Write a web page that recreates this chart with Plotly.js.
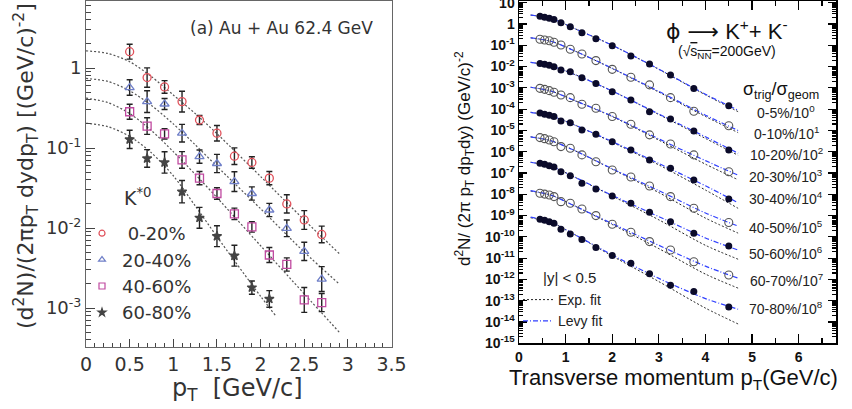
<!DOCTYPE html>
<html>
<head>
<meta charset="utf-8">
<script src="https://cdn.plot.ly/plotly-3.0.1.min.js"></script>
<style>
  html, body { margin: 0; padding: 0; background: #fff; }
  #chart { width: 852px; height: 409px; }
</style>
</head>
<body>
<div id="chart"></div>
<script>
// ---------------- Left panel: K*0 spectra, Au+Au 62.4 GeV ----------------
const kstarNames = ['\u00a00-20%', '20-40%', '40-60%', '60-80%'];
const kstarPt = [0.5, 0.7, 0.9, 1.1, 1.3, 1.5, 1.7, 1.9, 2.1, 2.3, 2.5, 2.7];
const kstarPtPeripheral = [0.5, 0.7, 0.9, 1.1, 1.3, 1.5, 1.7, 1.9, 2.1];
const kstar0to20 = [1.6, 0.76, 0.58, 0.38, 0.224, 0.153, 0.079, 0.066, 0.042, 0.020, 0.0126, 0.0083];
const kstar20to40 = [0.57, 0.38, 0.355, 0.153, 0.078, 0.064, 0.038, 0.027, 0.0168, 0.0099, 0.0051, 0.0023];
const kstar40to60 = [0.284, 0.188, 0.15, 0.071, 0.042, 0.027, 0.015, 0.0103, 0.0046, 0.0035, 0.00126, 0.00117];
const kstar60to80 = [0.128, 0.074, 0.066, 0.0284, 0.0134, 0.0079, 0.0045, 0.0018, 0.0013];
// relative uncertainties (upper side)
const kstarErr0to20 = [0.24, 0.32, 0.20, 0.35, 0.14, 0.25, 0.27, 0.18, 0.21, 0.30, 0.31, 0.27];
const kstarErr20to40 = [0.25, 0.37, 0.17, 0.29, 0.21, 0.30, 0.33, 0.21, 0.21, 0.27, 0.30, 0.43];
const kstarErr40to60 = [0.24, 0.27, 0.16, 0.27, 0.21, 0.18, 0.18, 0.16, 0.24, 0.21, 0.43, 0.30];
const kstarErr60to80 = [0.30, 0.29, 0.36, 0.38, 0.35, 0.35, 0.35, 0.21, 0.27];
// fitted curves
const kstarFitPt = [0, 0.25, 0.5, 0.75, 1.0, 1.25, 1.5, 2.0, 2.5, 2.9];
const kstarFitPtPeripheral = [0, 0.25, 0.5, 0.75, 1.0, 1.25, 1.5, 2.0, 2.18];
const kstarFit0to20 = [1.64, 1.52, 1.2, 0.78, 0.46, 0.27, 0.151, 0.044, 0.0126, 0.0048];
const kstarFit20to40 = [0.74, 0.68, 0.52, 0.34, 0.2, 0.11, 0.059, 0.0174, 0.005, 0.002];
const kstarFit40to60 = [0.42, 0.37, 0.27, 0.165, 0.09, 0.047, 0.024, 0.006, 0.0015, 0.0005];
const kstarFit60to80 = [0.204, 0.185, 0.14, 0.087, 0.045, 0.019, 0.0078, 0.0014, 0.00078];
const kstarTicks = [0, 0.5, 1, 1.5, 2, 2.5, 3, 3.5];
const kstarTickText = ['0', '0.5', '1', '1.5', '2', '2.5', '3', '3.5'];

// ---------------- Right panel: phi spectra, Au+Au 200 GeV ----------------
const phiPt = [0.45, 0.55, 0.65, 0.75, 0.9, 1.1, 1.35, 1.65, 2.0, 2.4, 2.8, 3.25, 3.75, 4.5];
const phiLabels = ['0-5%/10<sup>0</sup>', '0-10%/10<sup>1</sup>', '10-20%/10<sup>2</sup>',
  '20-30%/10<sup>3</sup>', '30-40%/10<sup>4</sup>', '40-50%/10<sup>5</sup>',
  '50-60%/10<sup>6</sup>', '60-70%/10<sup>7</sup>', '70-80%/10<sup>8</sup>'];
const phi0to5 = [2.29, 2.09, 1.86, 1.62, 1.15, 0.741, 0.389, 0.200, 0.0955, 0.0316, 0.0132, 0.00398, 9.3e-4, 1.45e-4];
const phi0to10 = [0.191, 0.177, 0.164, 0.138, 0.103, 0.0646, 0.0389, 0.0191, 0.00741, 0.00316, 0.00138, 3.47e-4, 7.9e-5, 1.66e-5];
const phi10to20 = [0.0141, 0.0129, 0.0115, 0.00977, 0.00692, 0.00575, 0.00302, 0.00162, 6.6e-4, 2.69e-4, 7.6e-5, 3.47e-5, 9.3e-6, 1.2e-6];
const phi20to30 = [9.5e-4, 8.5e-4, 7.4e-4, 6.2e-4, 4.6e-4, 3.47e-4, 1.7e-4, 1.1e-4, 4.5e-5, 1.95e-5, 6.2e-6, 2.3e-6, 7.1e-7, 1.15e-7];
const phi30to40 = [6.5e-5, 5.75e-5, 5.1e-5, 4.5e-5, 2.75e-5, 2.3e-5, 1.05e-5, 6.6e-6, 2.95e-6, 1.2e-6, 4.1e-7, 1.66e-7, 4.7e-8, 6.0e-9];
const phi40to50 = [4.6e-6, 4.1e-6, 3.55e-6, 2.95e-6, 1.74e-6, 1.45e-6, 7.1e-7, 3.4e-7, 1.38e-7, 6.5e-8, 2.45e-8, 7.8e-9, 2.2e-9, 4.7e-10];
const phi50to60 = [2.9e-7, 2.6e-7, 2.2e-7, 1.9e-7, 1.15e-7, 7.4e-8, 3.3e-8, 1.78e-8, 8.3e-9, 3.8e-9, 1.45e-9, 5.1e-10, 1.48e-10, 3.7e-11];
const phi60to70 = [1.12e-8, 1.02e-8, 9.3e-9, 7.8e-9, 4.5e-9, 3.8e-9, 2.04e-9, 1.0e-9, 3.9e-10, 1.66e-10, 6.0e-11, 2.4e-11, 6.8e-12, 1.62e-12];
const phi70to80 = [6.8e-10, 6.0e-10, 5.1e-10, 4.4e-10, 2.3e-10, 1.38e-10, 7.6e-11, 3.2e-11, 1.35e-11, 5.8e-12, 1.86e-12, 5.4e-13, 2.7e-13, 5.1e-14];
// fit curves sampled along pT
const phiFitPt = [0.25, 0.7, 1.2, 2.0, 3.0, 4.0, 4.7];
const levy0to5 = [2.63, 1.78, 0.603, 0.1, 7.6e-3, 5.0e-4, 8.9e-5];
const exp0to5 = [2.63, 1.78, 0.603, 0.1, 7.4e-3, 4.7e-4, 7.6e-5];
const levy0to10 = [0.224, 0.151, 0.0537, 8.3e-3, 6.8e-4, 5.2e-5, 1.0e-5];
const exp0to10 = [0.224, 0.151, 0.0537, 8.1e-3, 6.3e-4, 4.5e-5, 7.9e-6];
const levy10to20 = [0.0158, 0.0105, 4.2e-3, 7.1e-4, 5.9e-5, 5.0e-6, 8.5e-7];
const exp10to20 = [0.0158, 0.0105, 4.2e-3, 7.1e-4, 5.6e-5, 4.2e-6, 6.8e-7];
const levy20to30 = [1.07e-3, 6.9e-4, 2.5e-4, 4.7e-5, 4.0e-6, 3.8e-7, 7.9e-8];
const exp20to30 = [1.07e-3, 6.9e-4, 2.5e-4, 4.5e-5, 3.5e-6, 2.6e-7, 4.8e-8];
const levy30to40 = [7.1e-5, 4.7e-5, 1.78e-5, 3.0e-6, 2.8e-7, 2.5e-8, 4.0e-9];
const exp30to40 = [7.1e-5, 4.7e-5, 1.78e-5, 2.8e-6, 2.4e-7, 1.58e-8, 2.2e-9];
const levy40to50 = [5.0e-6, 3.2e-6, 1.12e-6, 1.58e-7, 1.48e-8, 1.32e-9, 3.2e-10];
const exp40to50 = [5.0e-6, 3.2e-6, 1.12e-6, 1.51e-7, 1.2e-8, 7.6e-10, 1.5e-10];
const levy50to60 = [3.2e-7, 2.0e-7, 6.3e-8, 8.9e-9, 8.9e-10, 8.9e-11, 2.4e-11];
const exp50to60 = [3.2e-7, 2.0e-7, 6.3e-8, 8.3e-9, 6.3e-10, 4.0e-11, 8.9e-12];
const levy60to70 = [1.48e-8, 8.9e-9, 2.8e-9, 4.2e-10, 4.0e-11, 4.2e-12, 1.15e-12];
const exp60to70 = [1.41e-8, 8.9e-9, 2.8e-9, 3.8e-10, 2.8e-11, 1.78e-12, 3.9e-13];
const levy70to80 = [8.5e-10, 4.7e-10, 1.26e-10, 1.41e-11, 1.12e-12, 1.26e-13, 4.0e-14];
const exp70to80 = [7.9e-10, 4.7e-10, 1.26e-10, 1.26e-11, 7.9e-13, 4.5e-14, 8.1e-15];
const phiDecades = [-15, -14, -13, -12, -11, -10, -9, -8, -7, -6, -5, -4, -3, -2, -1, 0, 1];

// ---------------- helpers ----------------
const W = 852, H = 409;
const px = (X) => X / W;
const py = (Y) => 1 - Y / H;
const LEFT_FONT = 'DejaVu Sans, Verdana, sans-serif';
const RIGHT_FONT = 'Liberation Sans, Arial, Helvetica, sans-serif';

function logMinor(lo, hi) {
  const out = [];
  for (let e = lo; e <= hi; e++) for (let m = 2; m <= 9; m++) out.push(m * Math.pow(10, e));
  return out;
}
function decadeText(e) {
  if (e === 0) return '1';
  if (e === 1) return '10';
  return '10<sup>' + e + '</sup>';
}
function errorBars(vals, rel) {
  return {
    type: 'data', symmetric: false,
    array: vals.map((v, i) => v * rel[i]),
    arrayminus: vals.map((v, i) => v * rel[i] / (1 + rel[i])),
    color: '#222', thickness: 1.4, width: 3
  };
}

const traces = [];

// left: fit curves
[[kstarFitPt, kstarFit0to20], [kstarFitPt, kstarFit20to40],
 [kstarFitPt, kstarFit40to60], [kstarFitPtPeripheral, kstarFit60to80]].forEach(([x, y]) => {
  traces.push({
    x: x, y: y, xaxis: 'x', yaxis: 'y', mode: 'lines', showlegend: false, hoverinfo: 'skip',
    line: { color: '#555', width: 1.2, dash: '2px,2px', shape: 'spline', smoothing: 0.8 }
  });
});

// left: data points with error bars
const kstarStyle = [
  { symbol: 'circle-open', color: '#e0505a', size: 8 },
  { symbol: 'triangle-up-open', color: '#6f7fc8', size: 8 },
  { symbol: 'square-open', color: '#c04aa0', size: 8 },
  { symbol: 'star', color: '#444', size: 7 }
];
const kstarSets = [
  [kstarPt, kstar0to20, kstarErr0to20],
  [kstarPt, kstar20to40, kstarErr20to40],
  [kstarPt, kstar40to60, kstarErr40to60],
  [kstarPtPeripheral, kstar60to80, kstarErr60to80]
];
kstarSets.forEach(([x, y, err], i) => {
  const s = kstarStyle[i];
  traces.push({
    x: x, y: y, xaxis: 'x', yaxis: 'y', mode: 'markers', name: kstarNames[i], showlegend: false,
    marker: { symbol: s.symbol, size: s.size, color: s.color, line: { width: 1.3, color: s.color } },
    error_y: errorBars(y, err)
  });
});
// legend keys for the K*0 centralities (symbol only, no error bars)
kstarStyle.forEach((s, i) => {
  traces.push({
    x: [null], y: [null], xaxis: 'x', yaxis: 'y', mode: 'markers', name: kstarNames[i],
    legend: 'legend', showlegend: true,
    marker: { symbol: s.symbol, size: 6, color: s.color, line: { width: 1.2, color: s.color } }
  });
});

// right: fit curves
const expFits = [exp0to5, exp0to10, exp10to20, exp20to30, exp30to40, exp40to50, exp50to60, exp60to70, exp70to80];
const levyFits = [levy0to5, levy0to10, levy10to20, levy20to30, levy30to40, levy40to50, levy50to60, levy60to70, levy70to80];
expFits.forEach((y, i) => {
  traces.push({
    x: phiFitPt, y: y, xaxis: 'x2', yaxis: 'y2', mode: 'lines', name: 'Exp. fit',
    legend: 'legend2', showlegend: i === 0, hoverinfo: 'skip',
    line: { color: '#222', width: 1, dash: '2px,2px', shape: 'spline', smoothing: 0.8 }
  });
});
levyFits.forEach((y, i) => {
  traces.push({
    x: phiFitPt, y: y, xaxis: 'x2', yaxis: 'y2', mode: 'lines', name: 'Levy fit',
    legend: 'legend2', showlegend: i === 0, hoverinfo: 'skip',
    line: { color: '#3040ff', width: 1.2, dash: '5px,2px,1px,2px', shape: 'spline', smoothing: 0.8 }
  });
});

// right: data points (filled / open alternating)
const phiSets = [phi0to5, phi0to10, phi10to20, phi20to30, phi30to40, phi40to50, phi50to60, phi60to70, phi70to80];
phiSets.forEach((y, i) => {
  const filled = i % 2 === 0;
  traces.push({
    x: phiPt, y: y, xaxis: 'x2', yaxis: 'y2', mode: 'markers', showlegend: false,
    marker: filled
      ? { symbol: 'circle', size: 7, color: '#0b0b2a', line: { width: 0 } }
      : { symbol: 'circle-open', size: 8, color: '#555', line: { width: 1.1, color: '#555' } }
  });
});

// ---------------- annotations ----------------
const annotations = [
  { x: px(281), y: py(28), text: '(a) Au + Au 62.4 GeV', font: { family: LEFT_FONT, size: 17, color: '#333' } },
  { x: px(237), y: py(389), text: 'p<sub>T</sub>\u00a0\u00a0[GeV/c]', font: { family: LEFT_FONT, size: 24, color: '#333' } },
  { x: px(26), y: py(166), textangle: -90,
    text: '(d<sup>2</sup>N)/(2\u03c0p<sub>T</sub> dydp<sub>T</sub>) [(GeV/c)<sup>-2</sup>]',
    font: { family: LEFT_FONT, size: 22, color: '#333' } },
  { x: px(122), y: py(197), xanchor: 'left', text: 'K<sup>*0</sup>', font: { family: LEFT_FONT, size: 19, color: '#333' } },
  { x: px(727), y: py(30),
    text: '<span style="font-family:DejaVu Sans">\u03d5 \u27f6</span> K<sup>+</sup>+ K<sup>-</sup>',
    font: { family: RIGHT_FONT, size: 22, color: '#111' } },
  { x: px(727), y: py(52), text: '(\u221a<span style="text-decoration:overline">s<sub>NN</sub></span>=200GeV)', font: { family: RIGHT_FONT, size: 14, color: '#111' } },
  { x: px(781), y: py(90), text: '\u03c3<sub>trig</sub>/\u03c3<sub>geom</sub>', font: { family: RIGHT_FONT, size: 18, color: '#111' } },
  { x: px(673), y: py(379), text: 'Transverse momentum p<sub>T</sub>(GeV/c)', font: { family: RIGHT_FONT, size: 22, color: '#111' } },
  { x: px(465), y: py(159), textangle: -90,
    text: 'd<sup>2</sup>N/ (2\u03c0 p<sub>T</sub> dp<sub>T</sub>dy) (GeV/c)<sup>-2</sup>',
    font: { family: RIGHT_FONT, size: 17, color: '#111' } },
  { x: px(541), y: py(277), xanchor: 'left', text: '|y| < 0.5', font: { family: RIGHT_FONT, size: 15, color: '#222' } }
];
const phiLabelY = [112, 133, 154, 176, 198, 227, 253, 280, 308];
phiLabels.forEach((t, i) => {
  annotations.push({ x: px(786), y: py(phiLabelY[i]), text: t, font: { family: RIGHT_FONT, size: 14, color: '#222' } });
});
annotations.forEach(a => {
  a.xref = 'paper'; a.yref = 'paper'; a.showarrow = false;
  if (!a.xanchor) a.xanchor = 'center';
  a.yanchor = 'middle';
});

// ---------------- layout ----------------
const layout = {
  width: W, height: H,
  margin: { l: 0, r: 0, t: 0, b: 0 },
  paper_bgcolor: '#fff', plot_bgcolor: '#fff',
  showlegend: true,
  xaxis: {
    domain: [px(86), px(392)], anchor: 'y', range: [0, 3.505],
    tickmode: 'array', tickvals: kstarTicks, ticktext: kstarTickText,
    ticks: 'inside', ticklen: 8, tickwidth: 1, tickcolor: '#444',
    minor: { ticks: 'inside', dtick: 0.1, ticklen: 4, tickcolor: '#444', showgrid: false },
    showline: true, linecolor: '#666', linewidth: 1, mirror: true,
    showgrid: false, zeroline: false,
    tickfont: { family: LEFT_FONT, size: 19, color: '#333' }
  },
  yaxis: {
    domain: [py(347), py(1)], anchor: 'x', type: 'log', range: [-3.4875, 0.8375],
    tickmode: 'array', tickvals: [0.001, 0.01, 0.1, 1], ticktext: [decadeText(-3), decadeText(-2), decadeText(-1), decadeText(0)],
    ticks: 'inside', ticklen: 9, tickwidth: 1, tickcolor: '#444',
    minor: { ticks: 'inside', tickmode: 'array', tickvals: logMinor(-4, 0), ticklen: 5, tickcolor: '#444', showgrid: false },
    showline: true, linecolor: '#666', linewidth: 1, mirror: true,
    showgrid: false, zeroline: false,
    tickfont: { family: LEFT_FONT, size: 18, color: '#333' }
  },
  xaxis2: {
    domain: [px(519), px(836)], anchor: 'y2', range: [0, 6.8],
    tickmode: 'linear', tick0: 0, dtick: 1,
    ticks: 'inside', ticklen: 9, tickwidth: 1.2, tickcolor: '#000',
    minor: { ticks: 'inside', dtick: 0.5, ticklen: 5, tickcolor: '#000', showgrid: false },
    showline: true, linecolor: '#000', linewidth: 1.5, mirror: 'ticks',
    showgrid: false, zeroline: false,
    tickfont: { family: RIGHT_FONT, size: 14, color: '#111', weight: 'bold' }
  },
  yaxis2: {
    domain: [py(343.3), py(1)], anchor: 'x2', type: 'log', range: [-15, 1.08],
    tickmode: 'array', tickvals: phiDecades.map(e => Math.pow(10, e)), ticktext: phiDecades.map(decadeText),
    ticklabeloverflow: 'allow',
    ticks: 'inside', ticklen: 8, tickwidth: 1.2, tickcolor: '#000',
    minor: { ticks: 'inside', tickmode: 'array', tickvals: logMinor(-15, 0), ticklen: 4, tickcolor: '#000', showgrid: false },
    showline: true, linecolor: '#000', linewidth: 1.5, mirror: 'ticks',
    showgrid: false, zeroline: false,
    tickfont: { family: RIGHT_FONT, size: 14, color: '#111', weight: 'bold' }
  },
  legend: {
    x: px(82), y: py(215), xanchor: 'left', yanchor: 'top',
    bgcolor: 'rgba(0,0,0,0)', borderwidth: 0,
    traceorder: 'normal', itemwidth: 30,
    font: { family: LEFT_FONT, size: 18, color: '#333' }
  },
  legend2: {
    x: px(518), y: py(284), xanchor: 'left', yanchor: 'top',
    bgcolor: 'rgba(0,0,0,0)', borderwidth: 0,
    traceorder: 'normal', itemwidth: 30,
    font: { family: RIGHT_FONT, size: 14, color: '#222' }
  },
  annotations: annotations
};

Plotly.newPlot('chart', traces, layout, { staticPlot: true, displayModeBar: false });
</script>
</body>
</html>
